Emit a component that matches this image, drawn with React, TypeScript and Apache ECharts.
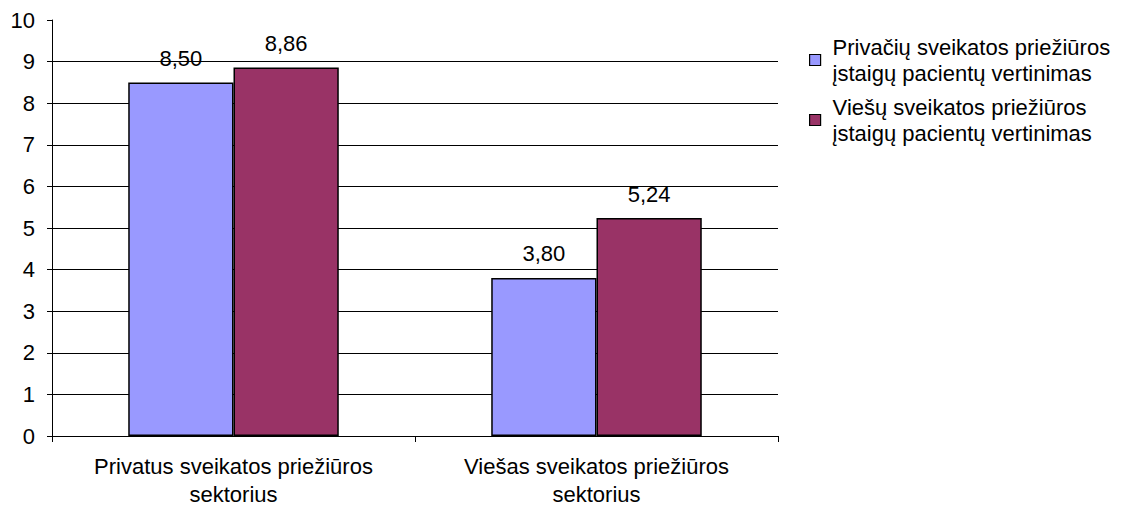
import React, { useEffect, useRef } from "react";
import * as echarts from "echarts";

const categories = ["Privatus sveikatos priežiūros\nsektorius", "Viešas sveikatos priežiūros\nsektorius"];
const seriesNames = [
  "Privačių sveikatos priežiūros\nįstaigų pacientų vertinimas",
  "Viešų sveikatos priežiūros\nįstaigų pacientų vertinimas",
];
const privateValues = [8.5, 3.8];
const publicValues = [8.86, 5.24];
const colors = ["#9999FF", "#993366"];

const FONT = "'Liberation Sans', Arial, sans-serif";
const FS = 22;

export default function App() {
  const ref = useRef<HTMLDivElement>(null);
  useEffect(() => {
    const chart = echarts.init(ref.current!, null, { renderer: "svg" });
    const splitColors = Array.from({ length: 11 }, (_, i) => (i === 10 ? "rgba(0,0,0,0)" : "#000"));
    const mkSeries = (name: string, data: number[], color: string) => ({
      name,
      type: "bar",
      data,
      barGap: "0%",
      barCategoryGap: "42%",
      itemStyle: { color, borderColor: "#000", borderWidth: 1.5 },
      label: {
        show: true,
        position: "top",
        distance: 13,
        color: "#000",
        fontFamily: FONT,
        fontSize: FS,
        formatter: (p: any) => p.value.toFixed(2).replace(".", ","),
      },
    });
    chart.setOption({
      animation: false,
      backgroundColor: "#fff",
      textStyle: { fontFamily: FONT },
      grid: { left: 52, right: 348, top: 20, bottom: 70, containLabel: false },
      legend: {
        orient: "vertical",
        left: 804,
        top: 29,
        itemWidth: 11,
        itemHeight: 11,
        itemGap: 8,
        icon: "rect",
        itemStyle: { borderColor: "#000", borderWidth: 1.2 },
        textStyle: {
          fontFamily: FONT,
          fontSize: FS,
          color: "#000",
          lineHeight: 26,
          padding: [13, 0, -13, 7],
        },
        data: seriesNames,
      },
      xAxis: {
        type: "category",
        data: categories,
        axisLine: { lineStyle: { color: "#000", width: 1 } },
        axisTick: { show: true, length: 6, lineStyle: { color: "#000" } },
        axisLabel: {
          interval: 0,
          color: "#000",
          fontFamily: FONT,
          fontSize: FS,
          lineHeight: 28,
          margin: 16,
        },
      },
      yAxis: {
        type: "value",
        min: 0,
        max: 10,
        interval: 1,
        axisLine: { show: true, lineStyle: { color: "#000", width: 1 } },
        axisTick: { show: true, length: 5, lineStyle: { color: "#000" } },
        axisLabel: { color: "#000", fontFamily: FONT, fontSize: FS, margin: 17 },
        splitLine: { show: true, lineStyle: { color: splitColors, width: 1 } },
      },
      series: [
        mkSeries(seriesNames[0], privateValues, colors[0]),
        mkSeries(seriesNames[1], publicValues, colors[1]),
      ],
    });
    return () => chart.dispose();
  }, []);
  return (
    <div
      ref={ref}
      style={{ position: "absolute", left: 0, top: 0, width: 1126, height: 508 }}
    />
  );
}
